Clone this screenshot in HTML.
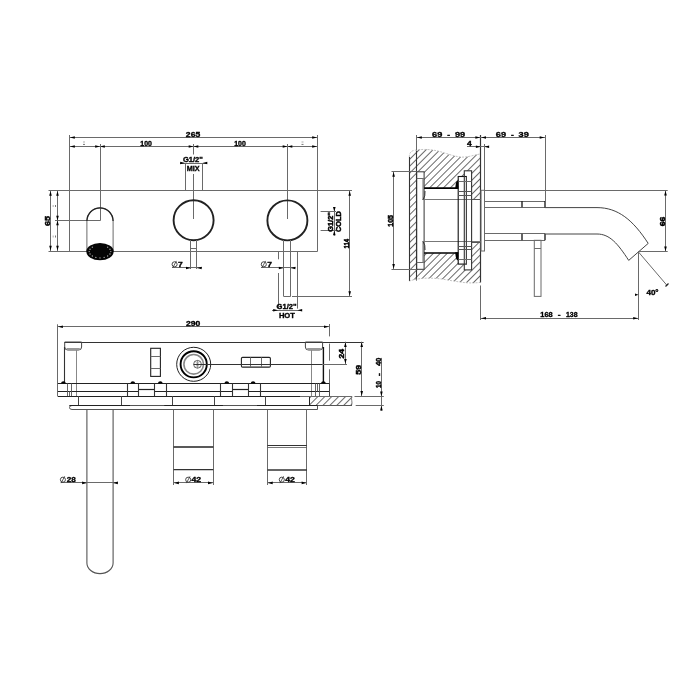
<!DOCTYPE html>
<html><head><meta charset="utf-8"><style>
html,body{margin:0;padding:0;background:#fff;}
svg{display:block;}
text{font-family:"Liberation Sans",sans-serif;}
</style></head><body>
<svg width="700" height="700" viewBox="0 0 700 700" style="filter:grayscale(1)">
<defs>
<pattern id="hatch" patternUnits="userSpaceOnUse" width="4.9" height="4.9" patternTransform="rotate(45)">
<line x1="0" y1="0" x2="0" y2="4.9" stroke="#111" stroke-width="1.25"/>
</pattern>
</defs>
<rect width="700" height="700" fill="#fff"/>
<line x1="69.5" y1="135" x2="69.5" y2="251.5" stroke="#6a6a6a" stroke-width="1.0" />
<line x1="317.5" y1="135" x2="317.5" y2="251.5" stroke="#6a6a6a" stroke-width="1.0" />
<line x1="69.5" y1="137.5" x2="317.5" y2="137.5" stroke="#6a6a6a" stroke-width="1.0" />
<polygon points="70.00,137.50 74.80,136.20 74.80,138.80" fill="#000"/>
<polygon points="317.00,137.50 312.20,136.20 312.20,138.80" fill="#000"/>
<text x="0" y="2.77" font-size="7.7" text-anchor="middle" fill="#000" stroke="#000" stroke-width="0.35" font-weight="bold" transform="translate(193.0 134.0)" textLength="14.3" lengthAdjust="spacingAndGlyphs" >265</text>
<line x1="69.5" y1="146.5" x2="317.5" y2="146.5" stroke="#6a6a6a" stroke-width="1.0" />
<polygon points="70.00,146.50 74.80,145.20 74.80,147.80" fill="#000"/>
<polygon points="317.00,146.50 312.20,145.20 312.20,147.80" fill="#000"/>
<polygon points="100.00,146.50 95.20,145.20 95.20,147.80" fill="#000"/>
<polygon points="100.00,146.50 104.80,145.20 104.80,147.80" fill="#000"/>
<polygon points="193.50,146.50 188.70,145.20 188.70,147.80" fill="#000"/>
<polygon points="193.50,146.50 198.30,145.20 198.30,147.80" fill="#000"/>
<polygon points="287.50,146.50 282.70,145.20 282.70,147.80" fill="#000"/>
<polygon points="287.50,146.50 292.30,145.20 292.30,147.80" fill="#000"/>
<text x="0" y="2.77" font-size="7.7" text-anchor="middle" fill="#000" stroke="#000" stroke-width="0.35" font-weight="bold" transform="translate(146.1 143.4)" textLength="11.6" lengthAdjust="spacingAndGlyphs" >100</text>
<text x="0" y="2.77" font-size="7.7" text-anchor="middle" fill="#000" stroke="#000" stroke-width="0.35" font-weight="bold" transform="translate(240.0 143.4)" textLength="11.6" lengthAdjust="spacingAndGlyphs" >100</text>
<rect x="83" y="141.4" width="2" height="1.2" fill="#bbb"/><rect x="83" y="143.9" width="2" height="1" fill="#777"/>
<rect x="301.5" y="141.4" width="2" height="1.2" fill="#bbb"/><rect x="301.5" y="143.9" width="2" height="1" fill="#777"/>
<line x1="100.5" y1="144" x2="100.5" y2="220.5" stroke="#6a6a6a" stroke-width="1.0" />
<line x1="55" y1="220.5" x2="100.5" y2="220.5" stroke="#6a6a6a" stroke-width="1.0" />
<line x1="193.5" y1="144" x2="193.5" y2="154.5" stroke="#6a6a6a" stroke-width="1.0" />
<line x1="193.5" y1="174" x2="193.5" y2="219" stroke="#6a6a6a" stroke-width="1.0" />
<line x1="287.5" y1="144" x2="287.5" y2="219" stroke="#6a6a6a" stroke-width="1.0" />
<line x1="180" y1="163.5" x2="207" y2="163.5" stroke="#6a6a6a" stroke-width="1.0" />
<polygon points="185.00,163.00 180.20,161.70 180.20,164.30" fill="#000"/>
<polygon points="202.50,163.00 207.30,161.70 207.30,164.30" fill="#000"/>
<line x1="185.5" y1="163" x2="185.5" y2="190.5" stroke="#6a6a6a" stroke-width="1.0" />
<line x1="202.5" y1="163" x2="202.5" y2="190.5" stroke="#6a6a6a" stroke-width="1.0" />
<text x="0" y="2.77" font-size="7.7" text-anchor="middle" fill="#000" stroke="#000" stroke-width="0.35" font-weight="bold" transform="translate(192.9 159.4)" textLength="20" lengthAdjust="spacingAndGlyphs" >G1/2&quot;</text>
<text x="0" y="2.77" font-size="7.7" text-anchor="middle" fill="#000" stroke="#000" stroke-width="0.35" font-weight="bold" transform="translate(193.2 167.9)" textLength="12.8" lengthAdjust="spacingAndGlyphs" >MIX</text>
<line x1="48.5" y1="190.5" x2="352" y2="190.5" stroke="#6a6a6a" stroke-width="1.0" />
<line x1="48.5" y1="251.5" x2="317.5" y2="251.5" stroke="#6a6a6a" stroke-width="1.0" />
<line x1="50.5" y1="190.5" x2="50.5" y2="251" stroke="#6a6a6a" stroke-width="1.0" />
<polygon points="50.50,191.00 49.20,195.80 51.80,195.80" fill="#000"/>
<polygon points="50.50,250.50 49.20,245.70 51.80,245.70" fill="#000"/>
<line x1="57.5" y1="190.5" x2="57.5" y2="251" stroke="#6a6a6a" stroke-width="1.0" />
<polygon points="57.50,191.00 56.20,195.80 58.80,195.80" fill="#000"/>
<polygon points="57.50,250.50 56.20,245.70 58.80,245.70" fill="#000"/>
<polygon points="57.50,220.50 56.20,225.30 58.80,225.30" fill="#000"/>
<polygon points="57.50,220.50 56.20,215.70 58.80,215.70" fill="#000"/>
<text x="0" y="2.77" font-size="7.7" text-anchor="middle" fill="#000" stroke="#000" stroke-width="0.5" font-weight="bold" transform="translate(47.4 221.0) rotate(-90)" textLength="10" lengthAdjust="spacingAndGlyphs" >65</text>
<rect x="52.6" y="205" width="1.2" height="2" fill="#bbb"/><rect x="55" y="205" width="1" height="2" fill="#777"/>
<rect x="52.6" y="235.5" width="1.2" height="2" fill="#bbb"/><rect x="55" y="235.5" width="1" height="2" fill="#777"/>
<path d="M86.9,251 L86.9,221 A13.1,13.1 0 0 1 113.1,221 L113.1,251" stroke="#6a6a6a" stroke-width="1.0" fill="none" />
<path d="M86.9,221 A13.1,13.1 0 0 1 113.1,221" stroke="#222" stroke-width="1.3" fill="none" />
<ellipse cx="100" cy="251.6" rx="13.7" ry="8.6" fill="#050505"/>
<circle cx="110.80" cy="251.60" r="0.7" fill="#aaa"/>
<circle cx="109.98" cy="254.01" r="0.7" fill="#aaa"/>
<circle cx="107.64" cy="256.05" r="0.7" fill="#aaa"/>
<circle cx="104.13" cy="257.42" r="0.7" fill="#aaa"/>
<circle cx="100.00" cy="257.90" r="0.7" fill="#aaa"/>
<circle cx="95.87" cy="257.42" r="0.7" fill="#aaa"/>
<circle cx="92.36" cy="256.05" r="0.7" fill="#aaa"/>
<circle cx="90.02" cy="254.01" r="0.7" fill="#aaa"/>
<circle cx="89.20" cy="251.60" r="0.7" fill="#aaa"/>
<circle cx="90.02" cy="249.19" r="0.7" fill="#aaa"/>
<circle cx="92.36" cy="247.15" r="0.7" fill="#aaa"/>
<circle cx="107.64" cy="247.15" r="0.7" fill="#aaa"/>
<circle cx="109.98" cy="249.19" r="0.7" fill="#aaa"/>
<circle cx="193.6" cy="220.3" r="20" stroke="#222" stroke-width="1.9" fill="none"/>
<circle cx="287.4" cy="220.4" r="20" stroke="#222" stroke-width="1.9" fill="none"/>
<line x1="190.5" y1="240" x2="190.5" y2="269" stroke="#6a6a6a" stroke-width="1.0" />
<line x1="196.5" y1="240" x2="196.5" y2="269" stroke="#6a6a6a" stroke-width="1.0" />
<line x1="190.8" y1="248.5" x2="196.9" y2="248.5" stroke="#6a6a6a" stroke-width="1.0" />
<line x1="172" y1="267.5" x2="202" y2="267.5" stroke="#6a6a6a" stroke-width="1.0" />
<polygon points="190.80,268.00 186.00,266.70 186.00,269.30" fill="#000"/>
<polygon points="196.90,268.00 201.70,266.70 201.70,269.30" fill="#000"/>
<circle cx="174.6" cy="264.3" r="2.55" stroke="#333" stroke-width="0.9" fill="none"/>
<line x1="172.79999999999998" y1="267.7" x2="176.4" y2="260.90000000000003" stroke="#333" stroke-width="0.8" />
<text x="0" y="2.77" font-size="7.7" text-anchor="middle" fill="#000" stroke="#000" stroke-width="0.35" font-weight="bold" transform="translate(180.4 264.6) scale(1.1 1)" >7</text>
<line x1="283.5" y1="240" x2="283.5" y2="296.4" stroke="#6a6a6a" stroke-width="1.0" />
<line x1="290.5" y1="240" x2="290.5" y2="296.4" stroke="#6a6a6a" stroke-width="1.0" />
<line x1="283.6" y1="296.5" x2="290.6" y2="296.5" stroke="#6a6a6a" stroke-width="1.0" />
<line x1="261" y1="267.5" x2="295.5" y2="267.5" stroke="#6a6a6a" stroke-width="1.0" />
<polygon points="283.60,268.00 278.80,266.70 278.80,269.30" fill="#000"/>
<polygon points="290.60,268.00 295.40,266.70 295.40,269.30" fill="#000"/>
<circle cx="263.8" cy="264.3" r="2.55" stroke="#333" stroke-width="0.9" fill="none"/>
<line x1="262.0" y1="267.7" x2="265.6" y2="260.90000000000003" stroke="#333" stroke-width="0.8" />
<text x="0" y="2.77" font-size="7.7" text-anchor="middle" fill="#000" stroke="#000" stroke-width="0.35" font-weight="bold" transform="translate(269.6 264.6) scale(1.1 1)" >7</text>
<line x1="278.5" y1="251" x2="278.5" y2="259.3" stroke="#6a6a6a" stroke-width="1.0" />
<line x1="278.5" y1="273" x2="278.5" y2="308.6" stroke="#6a6a6a" stroke-width="1.0" />
<line x1="297.5" y1="251" x2="297.5" y2="308.6" stroke="#6a6a6a" stroke-width="1.0" />
<line x1="272" y1="310.5" x2="302" y2="310.5" stroke="#6a6a6a" stroke-width="1.0" />
<polygon points="278.00,310.30 273.20,309.00 273.20,311.60" fill="#000"/>
<polygon points="297.40,310.30 302.20,309.00 302.20,311.60" fill="#000"/>
<text x="0" y="2.77" font-size="7.7" text-anchor="middle" fill="#000" stroke="#000" stroke-width="0.35" font-weight="bold" transform="translate(286.6 306.3)" textLength="20" lengthAdjust="spacingAndGlyphs" >G1/2&quot;</text>
<text x="0" y="2.77" font-size="7.7" text-anchor="middle" fill="#000" stroke="#000" stroke-width="0.35" font-weight="bold" transform="translate(286.9 315.2)" textLength="16" lengthAdjust="spacingAndGlyphs" >HOT</text>
<line x1="349.5" y1="190.5" x2="349.5" y2="296.4" stroke="#6a6a6a" stroke-width="1.0" />
<polygon points="349.70,191.00 348.40,195.80 351.00,195.80" fill="#000"/>
<polygon points="349.70,296.00 348.40,291.20 351.00,291.20" fill="#000"/>
<line x1="292" y1="296.5" x2="352" y2="296.5" stroke="#6a6a6a" stroke-width="1.0" />
<text x="0" y="2.77" font-size="7.7" text-anchor="middle" fill="#000" stroke="#000" stroke-width="0.5" font-weight="bold" transform="translate(346.0 243.75) rotate(-90)" textLength="9.7" lengthAdjust="spacingAndGlyphs" >114</text>
<line x1="334.5" y1="207" x2="334.5" y2="235.7" stroke="#6a6a6a" stroke-width="1.0" />
<polygon points="334.30,211.70 333.00,206.90 335.60,206.90" fill="#000"/>
<polygon points="334.30,230.40 333.00,235.20 335.60,235.20" fill="#000"/>
<line x1="320.6" y1="211.5" x2="336" y2="211.5" stroke="#6a6a6a" stroke-width="1.0" />
<line x1="320.6" y1="230.5" x2="336" y2="230.5" stroke="#6a6a6a" stroke-width="1.0" />
<text x="0" y="2.77" font-size="7.7" text-anchor="middle" fill="#000" stroke="#000" stroke-width="0.5" font-weight="bold" transform="translate(330.7 222.0) rotate(-90)" textLength="19.6" lengthAdjust="spacingAndGlyphs" >G1/2&quot;</text>
<text x="0" y="2.77" font-size="7.7" text-anchor="middle" fill="#000" stroke="#000" stroke-width="0.5" font-weight="bold" transform="translate(338.7 221.6) rotate(-90)" textLength="20.8" lengthAdjust="spacingAndGlyphs" >COLD</text>
<path d="M409.3,157 Q409.3,150.8 415,150.3 C420,149.2 430,148.8 439.3,151.4 C447,153.5 455,156.8 462,157.1 C469,157.3 475,154.5 480.7,154 L480.7,282.4 L480.7,282.4 C475,283 470,283.3 462,282.3 C452,281 445,279.3 438,278.6 C430,277.8 422,278 415,279.5 Q409.3,280.8 409.3,281.3 Z" fill="url(#hatch)" stroke="none"/>
<rect x="416.7" y="171.8" width="7.400000000000034" height="97.5" fill="#fff"/>
<rect x="424.1" y="187.8" width="34.39999999999998" height="65.39999999999998" fill="#fff"/>
<rect x="458.5" y="176.5" width="7.899999999999977" height="87.60000000000002" fill="#fff"/>
<rect x="464.2" y="170.8" width="7.400000000000034" height="99.09999999999997" fill="#fff"/>
<rect x="422.6" y="200" width="58.099999999999966" height="41.69999999999999" fill="#fff"/>
<line x1="409.5" y1="157" x2="409.5" y2="281" stroke="#333" stroke-width="1.1" />
<line x1="416.5" y1="150.5" x2="416.5" y2="280.5" stroke="#333" stroke-width="1.1" />
<line x1="480.5" y1="135" x2="480.5" y2="282.4" stroke="#333" stroke-width="1.2" />
<line x1="480.5" y1="285.7" x2="480.5" y2="320" stroke="#6a6a6a" stroke-width="1.0" />
<path d="M409.3,157 Q409.3,150.8 415,150.3 C420,149.2 430,148.8 439.3,151.4 C447,153.5 455,156.8 462,157.1 C469,157.3 475,154.5 480.7,154" stroke="#aaa" stroke-width="0.7" fill="none" stroke-dasharray="2,1.2"/>
<path d="M480.7,282.4 C475,283 470,283.3 462,282.3 C452,281 445,279.3 438,278.6 C430,277.8 422,278 415,279.5 Q409.3,280.8 409.3,281.3" stroke="#aaa" stroke-width="0.7" fill="none" stroke-dasharray="2,1.2"/>
<rect x="416.7" y="171.8" width="7.400000000000034" height="97.5" stroke="#333" stroke-width="1.0" fill="none" rx="0"/>
<line x1="416.7" y1="178.5" x2="424.1" y2="178.5" stroke="#6a6a6a" stroke-width="1.0" />
<line x1="416.7" y1="262.5" x2="424.1" y2="262.5" stroke="#6a6a6a" stroke-width="1.0" />
<line x1="424.1" y1="188.1" x2="458.3" y2="188.1" stroke="#000" stroke-width="1.6" />
<line x1="424.1" y1="253.0" x2="458.3" y2="253.0" stroke="#000" stroke-width="1.6" />
<line x1="422.6" y1="199.5" x2="480.7" y2="199.5" stroke="#777" stroke-width="1.0" />
<line x1="422.6" y1="241.5" x2="480.7" y2="241.5" stroke="#777" stroke-width="1.0" />
<line x1="423.2" y1="178.8" x2="423.2" y2="199.8" stroke="#888" stroke-width="1.6" />
<line x1="423.2" y1="241.5" x2="423.2" y2="262.3" stroke="#888" stroke-width="1.6" />
<path d="M425,191 Q425.5,196 423,199.8" stroke="#333" stroke-width="1.0" fill="none" />
<path d="M425,250 Q425.5,245 423,241.5" stroke="#333" stroke-width="1.0" fill="none" />
<rect x="458.2" y="176.5" width="8.199999999999989" height="87.60000000000002" stroke="#111" stroke-width="1.1" fill="none" rx="0"/>
<rect x="464.3" y="170.8" width="7.300000000000011" height="99.09999999999997" stroke="#333" stroke-width="1.1" fill="none" rx="0"/>
<line x1="466.5" y1="176.5" x2="466.5" y2="264.1" stroke="#444" stroke-width="1.0" />
<line x1="458.2" y1="181.5" x2="471.6" y2="181.5" stroke="#6a6a6a" stroke-width="1.0" />
<line x1="458.2" y1="259.5" x2="471.6" y2="259.5" stroke="#6a6a6a" stroke-width="1.0" />
<line x1="458.2" y1="191.5" x2="471.6" y2="191.5" stroke="#555" stroke-width="1.0" />
<line x1="458.2" y1="195.5" x2="471.6" y2="195.5" stroke="#555" stroke-width="1.0" />
<line x1="458.2" y1="246.5" x2="471.6" y2="246.5" stroke="#555" stroke-width="1.0" />
<line x1="458.2" y1="249.5" x2="471.6" y2="249.5" stroke="#555" stroke-width="1.0" />
<line x1="471.6" y1="199.5" x2="480.7" y2="199.5" stroke="#555" stroke-width="1.0" />
<line x1="471.6" y1="242.5" x2="480.7" y2="242.5" stroke="#555" stroke-width="1.0" />
<path d="M455.2,188.8 L458.3,188.8 L458.3,180.3 L456.3,181.8 L455.6,185 Z" fill="#000"/>
<path d="M455.2,252.3 L458.3,252.3 L458.3,260.8 L456.3,259.3 L455.6,256.1 Z" fill="#000"/>
<rect x="481" y="190.3" width="3.5" height="60.69999999999999" stroke="#6a6a6a" stroke-width="1.0" fill="none" rx="0"/>
<line x1="484.5" y1="190.5" x2="667.7" y2="190.5" stroke="#6a6a6a" stroke-width="1.0" />
<line x1="484.5" y1="201.5" x2="545" y2="201.5" stroke="#6a6a6a" stroke-width="1.0" />
<line x1="484.5" y1="207.5" x2="545" y2="207.5" stroke="#6a6a6a" stroke-width="1.0" />
<line x1="484.5" y1="233.5" x2="545" y2="233.5" stroke="#6a6a6a" stroke-width="1.0" />
<line x1="484.5" y1="240.5" x2="545" y2="240.5" stroke="#6a6a6a" stroke-width="1.0" />
<line x1="522" y1="201" x2="522" y2="207.3" stroke="#222" stroke-width="1.4" />
<line x1="522" y1="233.8" x2="522" y2="240.3" stroke="#222" stroke-width="1.4" />
<line x1="545.5" y1="135" x2="545.5" y2="201" stroke="#6a6a6a" stroke-width="1.0" />
<line x1="545" y1="201" x2="545" y2="207.6" stroke="#111" stroke-width="1.3" />
<line x1="545" y1="233.8" x2="545" y2="240.3" stroke="#111" stroke-width="1.3" />
<path d="M545,207.6 L597,207.6 C618,207.6 633,220 648.2,243.4 L628.7,260.4 C618,244 610,234 597,234 L545,234" stroke="#444" stroke-width="1.0" fill="none" />
<rect x="534.3" y="240.3" width="6.7000000000000455" height="56.099999999999966" stroke="#6a6a6a" stroke-width="1.0" fill="none" rx="0"/>
<line x1="534.3" y1="248.5" x2="541" y2="248.5" stroke="#6a6a6a" stroke-width="1.0" />
<line x1="416.5" y1="137.5" x2="545" y2="137.5" stroke="#6a6a6a" stroke-width="1.0" />
<polygon points="417.00,137.50 421.80,136.20 421.80,138.80" fill="#000"/>
<polygon points="480.20,137.50 475.40,136.20 475.40,138.80" fill="#000"/>
<polygon points="481.20,137.50 486.00,136.20 486.00,138.80" fill="#000"/>
<polygon points="544.50,137.50 539.70,136.20 539.70,138.80" fill="#000"/>
<line x1="416.5" y1="135" x2="416.5" y2="150" stroke="#6a6a6a" stroke-width="1.0" />
<text x="0" y="2.77" font-size="7.7" text-anchor="middle" fill="#000" stroke="#000" stroke-width="0.35" font-weight="bold" transform="translate(437.2 134.1)" textLength="10.2" lengthAdjust="spacingAndGlyphs" >69</text>
<text x="0" y="2.77" font-size="7.7" text-anchor="middle" fill="#000" stroke="#000" stroke-width="0.35" font-weight="bold" transform="translate(448.6 134.1) scale(1.1 1)" >-</text>
<text x="0" y="2.77" font-size="7.7" text-anchor="middle" fill="#000" stroke="#000" stroke-width="0.35" font-weight="bold" transform="translate(460.0 134.1)" textLength="10.2" lengthAdjust="spacingAndGlyphs" >99</text>
<text x="0" y="2.77" font-size="7.7" text-anchor="middle" fill="#000" stroke="#000" stroke-width="0.35" font-weight="bold" transform="translate(500.9 134.1)" textLength="10.2" lengthAdjust="spacingAndGlyphs" >69</text>
<text x="0" y="2.77" font-size="7.7" text-anchor="middle" fill="#000" stroke="#000" stroke-width="0.35" font-weight="bold" transform="translate(512.3 134.1) scale(1.1 1)" >-</text>
<text x="0" y="2.77" font-size="7.7" text-anchor="middle" fill="#000" stroke="#000" stroke-width="0.35" font-weight="bold" transform="translate(523.7 134.1)" textLength="10.2" lengthAdjust="spacingAndGlyphs" >39</text>
<line x1="467" y1="146.5" x2="489" y2="146.5" stroke="#6a6a6a" stroke-width="1.0" />
<polygon points="480.70,146.70 475.90,145.40 475.90,148.00" fill="#000"/>
<polygon points="484.30,146.70 489.10,145.40 489.10,148.00" fill="#000"/>
<line x1="484.5" y1="144" x2="484.5" y2="190.3" stroke="#6a6a6a" stroke-width="1.0" />
<text x="0" y="2.77" font-size="7.7" text-anchor="middle" fill="#000" stroke="#000" stroke-width="0.35" font-weight="bold" transform="translate(469.3 143.6) scale(1.1 1)" >4</text>
<line x1="393.5" y1="171.7" x2="393.5" y2="269.2" stroke="#6a6a6a" stroke-width="1.0" />
<polygon points="393.60,172.00 392.30,176.80 394.90,176.80" fill="#000"/>
<polygon points="393.60,268.80 392.30,264.00 394.90,264.00" fill="#000"/>
<line x1="391.5" y1="171.5" x2="416.7" y2="171.5" stroke="#6a6a6a" stroke-width="1.0" />
<line x1="391.5" y1="269.5" x2="416.7" y2="269.5" stroke="#6a6a6a" stroke-width="1.0" />
<text x="0" y="2.77" font-size="7.7" text-anchor="middle" fill="#000" stroke="#000" stroke-width="0.5" font-weight="bold" transform="translate(390.4 220.9) rotate(-90)" textLength="11.75" lengthAdjust="spacingAndGlyphs" >105</text>
<line x1="665.5" y1="190.3" x2="665.5" y2="251.7" stroke="#6a6a6a" stroke-width="1.0" />
<polygon points="665.50,190.80 664.20,195.60 666.80,195.60" fill="#000"/>
<polygon points="665.50,251.20 664.20,246.40 666.80,246.40" fill="#000"/>
<line x1="638" y1="251.5" x2="667.7" y2="251.5" stroke="#6a6a6a" stroke-width="1.0" />
<text x="0" y="2.77" font-size="7.7" text-anchor="middle" fill="#000" stroke="#000" stroke-width="0.5" font-weight="bold" transform="translate(662.0 221.5) rotate(-90)" textLength="9.5" lengthAdjust="spacingAndGlyphs" >66</text>
<line x1="638.5" y1="252" x2="638.5" y2="320" stroke="#6a6a6a" stroke-width="1.0" />
<line x1="638.5" y1="252" x2="667" y2="285.4" stroke="#6a6a6a" stroke-width="1.0" />
<line x1="665.5" y1="286.5" x2="668.5" y2="283.5" stroke="#222" stroke-width="1.2" />
<polygon points="638.50,294.70 635.00,293.40 635.00,296.00" fill="#000"/>
<text x="0" y="2.77" font-size="7.7" text-anchor="middle" fill="#000" stroke="#000" stroke-width="0.35" font-weight="bold" transform="translate(652.5 292.5)" textLength="12.2" lengthAdjust="spacingAndGlyphs" >40°</text>
<line x1="480.7" y1="318.5" x2="638.5" y2="318.5" stroke="#6a6a6a" stroke-width="1.0" />
<polygon points="481.20,318.20 486.00,316.90 486.00,319.50" fill="#000"/>
<polygon points="638.00,318.20 633.20,316.90 633.20,319.50" fill="#000"/>
<line x1="480.5" y1="285.7" x2="480.5" y2="320" stroke="#6a6a6a" stroke-width="1.0" />
<text x="0" y="2.77" font-size="7.7" text-anchor="middle" fill="#000" stroke="#000" stroke-width="0.35" font-weight="bold" transform="translate(546.5 314.7)" textLength="12.4" lengthAdjust="spacingAndGlyphs" >168</text>
<text x="0" y="2.77" font-size="7.7" text-anchor="middle" fill="#000" stroke="#000" stroke-width="0.35" font-weight="bold" transform="translate(559.1 314.7) scale(1.1 1)" >-</text>
<text x="0" y="2.77" font-size="7.7" text-anchor="middle" fill="#000" stroke="#000" stroke-width="0.35" font-weight="bold" transform="translate(571.8 314.7)" textLength="11.6" lengthAdjust="spacingAndGlyphs" >138</text>
<line x1="57.6" y1="326.5" x2="329.3" y2="326.5" stroke="#6a6a6a" stroke-width="1.0" />
<polygon points="58.10,326.70 62.90,325.40 62.90,328.00" fill="#000"/>
<polygon points="328.80,326.70 324.00,325.40 324.00,328.00" fill="#000"/>
<text x="0" y="2.77" font-size="7.7" text-anchor="middle" fill="#000" stroke="#000" stroke-width="0.35" font-weight="bold" transform="translate(193.15 323.35)" textLength="14.3" lengthAdjust="spacingAndGlyphs" >290</text>
<line x1="57.5" y1="324.3" x2="57.5" y2="396.4" stroke="#6a6a6a" stroke-width="1.0" />
<line x1="329.5" y1="324" x2="329.5" y2="336.4" stroke="#6a6a6a" stroke-width="1.0" />
<line x1="329.5" y1="343.6" x2="329.5" y2="360.7" stroke="#6a6a6a" stroke-width="1.0" />
<line x1="329.5" y1="369.3" x2="329.5" y2="395" stroke="#6a6a6a" stroke-width="1.0" />
<line x1="64.7" y1="342.5" x2="363.6" y2="342.5" stroke="#333" stroke-width="1.1" />
<path d="M64.7,342 L81.6,342 L81.6,347 Q81.6,350 78.6,350 L67.7,350 Q64.7,350 64.7,347 Z" stroke="#444" stroke-width="1.0" fill="none" />
<line x1="66.5" y1="349" x2="79.8" y2="349" stroke="#999" stroke-width="2.0" />
<line x1="64.5" y1="347" x2="64.5" y2="383.3" stroke="#333" stroke-width="1.1" />
<line x1="76.5" y1="350" x2="76.5" y2="396.1" stroke="#888" stroke-width="1.0" />
<path d="M305.4,342 L322.6,342 L322.6,347 Q322.6,350 319.6,350 L308.4,350 Q305.4,350 305.4,347 Z" stroke="#444" stroke-width="1.0" fill="none" />
<line x1="307.2" y1="349" x2="320.8" y2="349" stroke="#999" stroke-width="2.0" />
<line x1="311.5" y1="350" x2="311.5" y2="396.1" stroke="#888" stroke-width="1.0" />
<line x1="323.4" y1="347" x2="323.4" y2="383.3" stroke="#111" stroke-width="1.4" />
<rect x="150.7" y="348.3" width="9.700000000000017" height="28.099999999999966" stroke="#222" stroke-width="1.1" fill="none" rx="0"/>
<line x1="150.7" y1="356.5" x2="160.4" y2="356.5" stroke="#6a6a6a" stroke-width="1.0" />
<line x1="150.7" y1="368.5" x2="160.4" y2="368.5" stroke="#6a6a6a" stroke-width="1.0" />
<rect x="241.4" y="357.4" width="28.99999999999997" height="9.700000000000045" stroke="#222" stroke-width="1.1" fill="none" rx="1.2"/>
<line x1="250.5" y1="357.4" x2="250.5" y2="367.1" stroke="#6a6a6a" stroke-width="1.0" />
<line x1="261.5" y1="357.4" x2="261.5" y2="367.1" stroke="#6a6a6a" stroke-width="1.0" />
<circle cx="193.7" cy="364.3" r="17.0" stroke="#222" stroke-width="1.0" fill="none"/>
<circle cx="193.7" cy="364.3" r="13.1" stroke="#000" stroke-width="1.9" fill="none"/>
<circle cx="193.7" cy="364.3" r="9.8" stroke="#888" stroke-width="1.6" fill="none"/>
<circle cx="197.5" cy="364.3" r="3.9" stroke="#444" stroke-width="0.8" fill="none"/>
<line x1="197.5" y1="360.4" x2="197.5" y2="368.2" stroke="#555" stroke-width="0.6" />
<line x1="195.3" y1="361.1" x2="199.7" y2="367.5" stroke="#666" stroke-width="0.5" />
<line x1="195.3" y1="367.5" x2="199.7" y2="361.1" stroke="#666" stroke-width="0.5" />
<line x1="193.6" y1="364.5" x2="347" y2="364.5" stroke="#333" stroke-width="1.0" />
<line x1="57.9" y1="383.5" x2="329.4" y2="383.5" stroke="#222" stroke-width="1.1" />
<line x1="57.9" y1="391.5" x2="138.9" y2="391.5" stroke="#222" stroke-width="1.1" />
<line x1="154.7" y1="391.5" x2="232.7" y2="391.5" stroke="#222" stroke-width="1.1" />
<line x1="248.5" y1="391.5" x2="329.4" y2="391.5" stroke="#222" stroke-width="1.1" />
<line x1="138.9" y1="389.5" x2="154.7" y2="389.5" stroke="#222" stroke-width="1.2" />
<line x1="232.7" y1="389.5" x2="248.5" y2="389.5" stroke="#222" stroke-width="1.2" />
<line x1="57.9" y1="396.5" x2="329.4" y2="396.5" stroke="#222" stroke-width="1.1" />
<line x1="127.5" y1="383.4" x2="127.5" y2="396.1" stroke="#333" stroke-width="1.1" />
<line x1="138.5" y1="383.4" x2="138.5" y2="396.1" stroke="#333" stroke-width="1.1" />
<line x1="154.5" y1="383.4" x2="154.5" y2="396.1" stroke="#333" stroke-width="1.1" />
<line x1="166.5" y1="383.4" x2="166.5" y2="396.1" stroke="#333" stroke-width="1.1" />
<line x1="220.5" y1="383.4" x2="220.5" y2="396.1" stroke="#333" stroke-width="1.1" />
<line x1="232.5" y1="383.4" x2="232.5" y2="396.1" stroke="#333" stroke-width="1.1" />
<line x1="248.5" y1="383.4" x2="248.5" y2="396.1" stroke="#333" stroke-width="1.1" />
<line x1="260.5" y1="383.4" x2="260.5" y2="396.1" stroke="#333" stroke-width="1.1" />
<line x1="67.5" y1="383.4" x2="67.5" y2="396.1" stroke="#555" stroke-width="0.9" />
<line x1="71.5" y1="383.4" x2="71.5" y2="396.1" stroke="#555" stroke-width="0.9" />
<line x1="315.5" y1="383.4" x2="315.5" y2="396.1" stroke="#555" stroke-width="0.9" />
<line x1="319.5" y1="383.4" x2="319.5" y2="396.1" stroke="#555" stroke-width="0.9" />
<line x1="69.5" y1="391.4" x2="69.5" y2="396.1" stroke="#555" stroke-width="0.9" />
<line x1="317.5" y1="383.4" x2="317.5" y2="391.4" stroke="#555" stroke-width="0.9" />
<line x1="329.5" y1="383.4" x2="329.5" y2="396.1" stroke="#444" stroke-width="1.0" />
<path d="M61.1,383.6 C61.1,380.6 65.7,380.6 65.7,383.6 Z" fill="#000"/>
<path d="M130.5,383.6 C130.5,380.6 135.10000000000002,380.6 135.10000000000002,383.6 Z" fill="#000"/>
<path d="M158.0,383.6 C158.0,380.6 162.60000000000002,380.6 162.60000000000002,383.6 Z" fill="#000"/>
<path d="M224.5,383.6 C224.5,380.6 229.10000000000002,380.6 229.10000000000002,383.6 Z" fill="#000"/>
<path d="M250.79999999999998,383.6 C250.79999999999998,380.6 255.4,380.6 255.4,383.6 Z" fill="#000"/>
<path d="M321.09999999999997,383.6 C321.09999999999997,380.6 325.7,380.6 325.7,383.6 Z" fill="#000"/>
<line x1="78.5" y1="396.1" x2="78.5" y2="405.8" stroke="#444" stroke-width="1.0" />
<line x1="121.5" y1="396.1" x2="121.5" y2="405.8" stroke="#444" stroke-width="1.0" />
<line x1="172.5" y1="396.1" x2="172.5" y2="405.8" stroke="#444" stroke-width="1.0" />
<line x1="214.5" y1="396.1" x2="214.5" y2="405.8" stroke="#444" stroke-width="1.0" />
<line x1="265.5" y1="396.1" x2="265.5" y2="405.8" stroke="#444" stroke-width="1.0" />
<path d="M309.3,396.5 L352,396.5 C350.5,399 353,402 351.5,405.5 L309.3,405.5 Z" fill="url(#hatch)" stroke="none"/>
<line x1="309.5" y1="396.5" x2="309.5" y2="405.5" stroke="#222" stroke-width="1.0" />
<path d="M352,396.5 C350.5,399 353,402 351.5,405.5" stroke="#555" stroke-width="0.8" fill="none" />
<line x1="300" y1="396.5" x2="352" y2="396.5" stroke="#6a6a6a" stroke-width="1.0" />
<line x1="354.5" y1="396.5" x2="383.8" y2="396.5" stroke="#6a6a6a" stroke-width="1.0" />
<line x1="309.3" y1="405.5" x2="352" y2="405.5" stroke="#555" stroke-width="1.0" />
<line x1="355.7" y1="405.5" x2="383.8" y2="405.5" stroke="#6a6a6a" stroke-width="1.0" />
<path d="M317.5,405.5 L72,405.5 Q69.5,405.5 69.5,407.5 Q69.5,409.5 72,409.5 L317.5,409.5 Z" stroke="#555" stroke-width="1.0" fill="none" />
<line x1="69.3" y1="405.5" x2="130" y2="405.5" stroke="#222" stroke-width="1.2" />
<line x1="164.3" y1="405.5" x2="222.9" y2="405.5" stroke="#222" stroke-width="1.2" />
<line x1="257" y1="405.5" x2="317.4" y2="405.5" stroke="#222" stroke-width="1.2" />
<line x1="322" y1="364.5" x2="347" y2="364.5" stroke="#6a6a6a" stroke-width="1.0" />
<line x1="345.5" y1="341.7" x2="345.5" y2="364.3" stroke="#6a6a6a" stroke-width="1.0" />
<polygon points="345.40,342.20 344.10,347.00 346.70,347.00" fill="#000"/>
<polygon points="345.40,363.80 344.10,359.00 346.70,359.00" fill="#000"/>
<text x="0" y="2.77" font-size="7.7" text-anchor="middle" fill="#000" stroke="#000" stroke-width="0.5" font-weight="bold" transform="translate(341.6 353.7) rotate(-90)" textLength="9.4" lengthAdjust="spacingAndGlyphs" >24</text>
<line x1="361.5" y1="341.7" x2="361.5" y2="396.4" stroke="#6a6a6a" stroke-width="1.0" />
<polygon points="361.70,342.20 360.40,347.00 363.00,347.00" fill="#000"/>
<polygon points="361.70,395.90 360.40,391.10 363.00,391.10" fill="#000"/>
<text x="0" y="2.77" font-size="7.7" text-anchor="middle" fill="#000" stroke="#000" stroke-width="0.5" font-weight="bold" transform="translate(358.2 369.8) rotate(-90)" textLength="9.8" lengthAdjust="spacingAndGlyphs" >59</text>
<line x1="381.5" y1="357.9" x2="381.5" y2="410.7" stroke="#6a6a6a" stroke-width="1.0" />
<polygon points="381.40,396.40 380.10,391.60 382.70,391.60" fill="#000"/>
<polygon points="381.40,405.70 380.10,410.50 382.70,410.50" fill="#000"/>
<text x="0" y="2.77" font-size="7.7" text-anchor="middle" fill="#000" stroke="#000" stroke-width="0.5" font-weight="bold" transform="translate(378.0 361.65) rotate(-90)" textLength="8.1" lengthAdjust="spacingAndGlyphs" >40</text>
<text x="0" y="2.77" font-size="7.7" text-anchor="middle" fill="#000" stroke="#000" stroke-width="0.5" font-weight="bold" transform="translate(378.0 374.7) rotate(-90) scale(1.1 1)" >-</text>
<text x="0" y="2.77" font-size="7.7" text-anchor="middle" fill="#000" stroke="#000" stroke-width="0.5" font-weight="bold" transform="translate(378.0 384.55) rotate(-90)" textLength="6.9" lengthAdjust="spacingAndGlyphs" >10</text>
<path d="M86.9,409.7 L86.9,562.9 A13.1,10.7 0 0 0 113.1,562.9 L113.1,409.7" stroke="#555" stroke-width="1.1" fill="none" />
<line x1="173.5" y1="409.7" x2="173.5" y2="485" stroke="#6a6a6a" stroke-width="1.0" />
<line x1="213.5" y1="409.7" x2="213.5" y2="485" stroke="#6a6a6a" stroke-width="1.0" />
<line x1="173.6" y1="446.9" x2="213.3" y2="446.9" stroke="#222" stroke-width="1.5" />
<line x1="173.6" y1="469.7" x2="213.3" y2="469.7" stroke="#333" stroke-width="1.3" />
<line x1="267.5" y1="409.7" x2="267.5" y2="485" stroke="#6a6a6a" stroke-width="1.0" />
<line x1="306.5" y1="409.7" x2="306.5" y2="485" stroke="#6a6a6a" stroke-width="1.0" />
<line x1="267.4" y1="445.5" x2="306.9" y2="445.5" stroke="#333" stroke-width="1.1" />
<line x1="267.4" y1="447.5" x2="306.9" y2="447.5" stroke="#555" stroke-width="0.8" />
<line x1="267.4" y1="470" x2="306.9" y2="470" stroke="#333" stroke-width="1.3" />
<line x1="60.7" y1="482.5" x2="117.9" y2="482.5" stroke="#6a6a6a" stroke-width="1.0" />
<polygon points="86.90,482.90 82.10,481.60 82.10,484.20" fill="#000"/>
<polygon points="113.10,482.90 117.90,481.60 117.90,484.20" fill="#000"/>
<circle cx="62.9" cy="479.7" r="2.55" stroke="#333" stroke-width="0.9" fill="none"/>
<line x1="61.1" y1="483.09999999999997" x2="64.7" y2="476.3" stroke="#333" stroke-width="0.8" />
<text x="0" y="2.77" font-size="7.7" text-anchor="middle" fill="#000" stroke="#000" stroke-width="0.35" font-weight="bold" transform="translate(71.35 479.5)" textLength="9.1" lengthAdjust="spacingAndGlyphs" >28</text>
<line x1="173.6" y1="482.5" x2="213.3" y2="482.5" stroke="#6a6a6a" stroke-width="1.0" />
<polygon points="174.10,482.90 178.90,481.60 178.90,484.20" fill="#000"/>
<polygon points="212.80,482.90 208.00,481.60 208.00,484.20" fill="#000"/>
<circle cx="188.2" cy="479.7" r="2.55" stroke="#333" stroke-width="0.9" fill="none"/>
<line x1="186.39999999999998" y1="483.09999999999997" x2="190.0" y2="476.3" stroke="#333" stroke-width="0.8" />
<text x="0" y="2.77" font-size="7.7" text-anchor="middle" fill="#000" stroke="#000" stroke-width="0.35" font-weight="bold" transform="translate(196.25 479.5)" textLength="9.7" lengthAdjust="spacingAndGlyphs" >42</text>
<line x1="267.4" y1="482.5" x2="306.9" y2="482.5" stroke="#6a6a6a" stroke-width="1.0" />
<polygon points="267.90,482.90 272.70,481.60 272.70,484.20" fill="#000"/>
<polygon points="306.40,482.90 301.60,481.60 301.60,484.20" fill="#000"/>
<circle cx="281.8" cy="479.7" r="2.55" stroke="#333" stroke-width="0.9" fill="none"/>
<line x1="280.0" y1="483.09999999999997" x2="283.6" y2="476.3" stroke="#333" stroke-width="0.8" />
<text x="0" y="2.77" font-size="7.7" text-anchor="middle" fill="#000" stroke="#000" stroke-width="0.35" font-weight="bold" transform="translate(290.0 479.5)" textLength="9.7" lengthAdjust="spacingAndGlyphs" >42</text>
</svg>
</body></html>
